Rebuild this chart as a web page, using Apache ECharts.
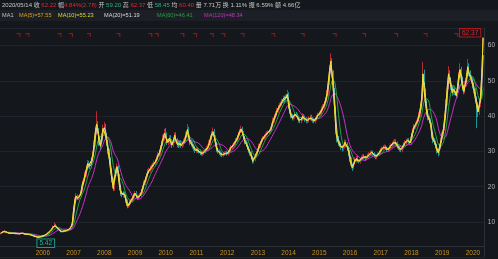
<!DOCTYPE html>
<html><head><meta charset="utf-8">
<script src="https://cdn.jsdelivr.net/npm/echarts@6/dist/echarts.min.js"></script>
<style>html,body{margin:0;padding:0;background:#14171c;}#c{width:498px;height:259px;}</style>
</head><body><div id="c"></div>
<script>
// half-month bars, from 2004/08/16 to 2020/05/01
const startYear = 2004, startHalf = 15, barCount = 378;
const categories = [];
for (let k = startHalf; k < startHalf + barCount; k++) {
  const y = startYear + Math.floor(k / 24), m = Math.floor((k % 24) / 2) + 1;
  categories.push(y + '/' + String(m).padStart(2, '0') + '/' + (k % 2 ? '16' : '01'));
}
const opens = [
6.7,6.8,7.0,7.3,7.4,7.2,7.0,6.9,6.8,
6.8,6.9,6.8,6.9,6.7,6.8,6.7,6.6,6.8,6.9,6.7,6.6,6.5,6.6,6.5,6.4,6.3,6.2,6.0,5.9,5.8,5.6,5.7,5.8,
6.0,5.9,6.2,6.4,6.6,6.9,7.3,7.6,8.0,8.7,9.2,8.8,8.4,8.0,7.6,7.3,7.2,7.4,7.6,7.5,7.7,7.9,8.1,8.6,
9.8,13.5,16.2,17.4,16.8,17.0,17.4,19.0,21.0,21.8,23.5,25.0,26.6,26.0,25.8,27.5,29.0,32.0,35.5,37.8,36.0,32.5,31.5,34.0,
36.5,37.0,34.5,32.4,30.0,27.6,24.5,22.0,19.5,22.5,24.5,25.7,23.0,19.8,18.0,17.6,18.2,17.5,16.0,14.5,14.8,15.6,16.0,16.8,
17.6,18.2,17.4,16.8,17.2,17.6,18.6,19.8,21.0,22.0,23.2,24.2,24.6,25.2,25.7,26.2,26.6,27.2,28.0,29.0,29.6,31.0,32.4,33.8,
35.2,34.5,32.5,32.8,33.8,32.6,31.8,33.0,34.6,33.2,32.0,31.8,32.4,31.6,32.0,32.8,33.4,34.8,36.2,34.0,32.6,32.2,31.6,31.0,
30.4,30.6,30.2,30.0,29.6,29.4,29.5,29.8,30.4,30.8,31.3,32.4,33.8,35.0,35.6,34.0,32.0,30.4,30.0,29.6,29.2,29.0,29.2,29.4,
29.6,29.4,29.8,30.6,31.2,31.6,32.0,32.4,33.2,34.0,35.0,35.8,36.4,35.2,33.8,32.6,32.0,31.0,30.2,29.4,28.4,27.2,27.8,28.8,
29.6,30.4,31.6,32.4,33.2,33.8,34.2,34.8,35.2,35.4,35.6,36.4,37.6,38.8,39.8,40.6,41.6,42.4,43.0,43.4,44.2,45.0,44.6,45.4,
46.2,43.0,41.2,40.0,39.4,39.8,40.6,40.2,39.6,38.8,38.6,39.2,40.0,39.6,39.0,38.6,38.8,39.4,39.8,39.2,38.8,38.6,39.2,39.8,
40.4,40.6,41.2,42.0,42.6,43.6,44.6,46.4,49.6,53.0,55.6,52.0,47.0,42.0,36.0,33.6,32.4,32.0,31.2,30.8,31.4,32.6,32.0,31.0,
29.8,27.8,26.0,25.4,26.6,27.8,28.2,27.4,27.0,27.6,28.2,28.6,28.4,28.0,28.4,28.8,29.2,29.6,29.8,29.4,28.8,28.4,28.8,29.2,
29.8,30.4,30.9,31.2,31.4,31.0,30.4,30.6,31.2,31.8,32.2,32.6,32.9,32.2,31.4,31.0,30.6,30.4,31.2,32.0,32.6,33.0,33.2,32.8,
32.4,34.4,35.8,37.0,37.6,38.2,39.0,40.4,42.4,45.0,52.0,47.0,43.6,40.8,39.6,38.8,37.6,34.4,33.2,32.6,31.6,30.2,29.6,31.4,
33.0,34.8,36.4,39.6,43.6,48.2,52.0,50.0,48.2,46.6,47.6,46.8,45.8,48.4,51.6,53.2,50.4,48.0,47.0,49.0,51.2,54.0,52.2,51.0,
50.2,48.6,47.2,44.8,43.0,41.2,43.0,45.6,52.4
];
const closes = [
6.8,7.0,7.3,7.4,7.2,7.0,6.9,6.8,6.8,
6.9,6.8,6.9,6.7,6.8,6.7,6.6,6.8,6.9,6.7,6.6,6.5,6.6,6.5,6.4,6.3,6.2,6.0,5.9,5.8,5.6,5.7,5.8,6.0,
5.9,6.2,6.4,6.6,6.9,7.3,7.6,8.0,8.7,9.2,8.8,8.4,8.0,7.6,7.3,7.2,7.4,7.6,7.5,7.7,7.9,8.1,8.6,9.8,
13.5,16.2,17.4,16.8,17.0,17.4,19.0,21.0,21.8,23.5,25.0,26.6,26.0,25.8,27.5,29.0,32.0,35.5,37.8,36.0,32.5,31.5,34.0,36.5,
37.0,34.5,32.4,30.0,27.6,24.5,22.0,19.5,22.5,24.5,25.7,23.0,19.8,18.0,17.6,18.2,17.5,16.0,14.5,14.8,15.6,16.0,16.8,17.6,
18.2,17.4,16.8,17.2,17.6,18.6,19.8,21.0,22.0,23.2,24.2,24.6,25.2,25.7,26.2,26.6,27.2,28.0,29.0,29.6,31.0,32.4,33.8,35.2,
34.5,32.5,32.8,33.8,32.6,31.8,33.0,34.6,33.2,32.0,31.8,32.4,31.6,32.0,32.8,33.4,34.8,36.2,34.0,32.6,32.2,31.6,31.0,30.4,
30.6,30.2,30.0,29.6,29.4,29.5,29.8,30.4,30.8,31.3,32.4,33.8,35.0,35.6,34.0,32.0,30.4,30.0,29.6,29.2,29.0,29.2,29.4,29.6,
29.4,29.8,30.6,31.2,31.6,32.0,32.4,33.2,34.0,35.0,35.8,36.4,35.2,33.8,32.6,32.0,31.0,30.2,29.4,28.4,27.2,27.8,28.8,29.6,
30.4,31.6,32.4,33.2,33.8,34.2,34.8,35.2,35.4,35.6,36.4,37.6,38.8,39.8,40.6,41.6,42.4,43.0,43.4,44.2,45.0,44.6,45.4,46.2,
43.0,41.2,40.0,39.4,39.8,40.6,40.2,39.6,38.8,38.6,39.2,40.0,39.6,39.0,38.6,38.8,39.4,39.8,39.2,38.8,38.6,39.2,39.8,40.4,
40.6,41.2,42.0,42.6,43.6,44.6,46.4,49.6,53.0,55.6,52.0,47.0,42.0,36.0,33.6,32.4,32.0,31.2,30.8,31.4,32.6,32.0,31.0,29.8,
27.8,26.0,25.4,26.6,27.8,28.2,27.4,27.0,27.6,28.2,28.6,28.4,28.0,28.4,28.8,29.2,29.6,29.8,29.4,28.8,28.4,28.8,29.2,29.8,
30.4,30.9,31.2,31.4,31.0,30.4,30.6,31.2,31.8,32.2,32.6,32.9,32.2,31.4,31.0,30.6,30.4,31.2,32.0,32.6,33.0,33.2,32.8,32.4,
34.4,35.8,37.0,37.6,38.2,39.0,40.4,42.4,45.0,52.0,47.0,43.6,40.8,39.6,38.8,37.6,34.4,33.2,32.6,31.6,30.2,29.6,31.4,33.0,
34.8,36.4,39.6,43.6,48.2,52.0,50.0,48.2,46.6,47.6,46.8,45.8,48.4,51.6,53.2,50.4,48.0,47.0,49.0,51.2,54.0,52.2,51.0,50.2,
48.6,47.2,44.8,43.0,41.2,43.0,45.6,52.4,62.22
];
const highs = [
7.0,7.2,7.5,7.7,7.5,7.3,7.1,7.0,7.0,
7.1,7.0,7.1,7.0,7.0,6.9,6.8,7.0,7.1,7.0,6.8,6.7,6.8,6.7,6.6,6.5,6.4,6.3,6.1,6.0,5.9,5.9,6.0,6.2,
6.2,6.4,6.6,6.8,7.1,7.5,7.9,8.3,9.0,9.9,9.5,9.0,8.6,8.2,7.8,7.5,7.6,7.8,7.8,7.9,8.1,8.4,8.9,10.3,
14.0,17.0,18.2,17.8,17.6,18.0,19.6,21.8,22.6,24.3,25.8,27.6,27.4,26.8,28.4,30.0,33.2,36.8,41.4,38.6,36.6,33.4,35.2,37.6,
38.4,37.8,35.2,33.2,30.8,28.4,25.2,22.6,23.2,25.4,26.6,26.2,23.6,20.4,18.6,18.8,18.6,17.8,16.4,15.4,16.2,16.6,17.4,18.2,
18.8,18.8,17.8,17.8,18.2,19.2,20.4,21.8,22.6,23.8,25.0,25.4,26.0,26.4,26.8,27.4,27.8,28.8,29.8,30.4,31.8,33.2,34.8,36.4,
36.6,35.4,33.6,34.6,34.6,33.4,33.8,35.4,35.4,33.8,32.8,33.2,33.2,32.8,33.6,34.2,35.6,37.8,37.0,34.8,33.4,32.8,32.2,31.6,
31.4,31.2,30.8,30.6,30.2,30.2,30.4,31.0,31.6,32.0,33.2,34.6,35.8,36.8,36.4,34.6,32.6,31.0,30.6,30.2,29.8,29.8,30.0,30.2,
30.2,30.4,31.2,31.8,32.2,32.6,33.0,33.8,34.6,35.6,36.4,37.3,37.0,35.8,34.4,33.2,32.6,31.6,30.8,30.0,28.8,28.4,29.4,30.2,
31.0,32.2,33.0,33.8,34.4,34.8,35.4,35.8,36.0,36.2,37.0,38.2,39.6,40.6,41.4,42.4,43.2,43.8,44.2,45.0,45.8,45.8,46.2,47.5,
46.8,43.8,42.0,40.6,40.4,41.2,41.2,40.8,40.2,39.4,39.8,40.8,40.6,40.2,39.6,39.4,40.0,40.4,40.4,39.8,39.4,39.8,40.4,41.0,
41.4,41.8,42.8,43.4,44.4,45.4,47.4,50.8,54.4,57.8,56.4,53.0,48.0,42.8,36.8,34.4,33.2,32.6,31.8,32.0,33.4,33.2,32.6,31.6,
30.4,28.4,26.6,27.2,28.4,28.8,28.8,27.8,28.2,28.8,29.2,29.2,28.8,28.8,29.4,29.8,30.2,30.4,30.2,29.8,29.2,29.2,29.8,30.4,
31.0,31.4,31.8,32.0,31.8,31.4,31.2,31.8,32.4,32.8,33.2,33.6,33.4,32.8,32.0,31.6,31.0,31.8,32.6,33.2,33.6,33.8,33.8,33.2,
35.2,36.6,37.8,38.4,39.0,39.8,41.2,43.4,46.2,55.4,53.2,47.8,44.4,41.4,40.2,39.4,38.2,34.8,33.8,33.2,32.2,30.8,32.2,34.0,
35.6,37.2,40.6,44.8,49.6,54.2,53.0,51.0,48.8,48.4,48.2,47.2,49.2,52.6,55.0,54.0,51.2,48.8,49.8,52.0,56.2,55.0,53.0,51.6,
51.0,49.6,48.0,45.6,44.0,43.8,46.4,53.6,62.37
];
const lows = [
6.5,6.7,6.9,7.1,7.0,6.8,6.7,6.6,6.6,
6.6,6.6,6.6,6.5,6.5,6.5,6.4,6.5,6.6,6.5,6.4,6.3,6.4,6.3,6.2,6.1,6.0,5.8,5.7,5.6,5.42,5.5,5.6,5.7,
5.7,5.8,6.0,6.2,6.4,6.7,7.1,7.4,7.8,8.5,8.5,8.2,7.8,7.4,7.1,7.0,7.0,7.2,7.3,7.3,7.5,7.7,7.9,8.4,
9.6,13.0,15.6,16.2,16.2,16.6,17.0,18.6,20.4,21.2,22.8,24.4,25.2,25.0,25.2,27.0,28.4,31.4,34.8,35.0,31.6,30.4,30.8,33.4,
35.6,33.8,31.6,29.2,26.8,23.8,21.2,18.8,18.8,21.8,23.8,22.4,19.0,17.4,17.0,17.0,16.8,15.4,13.9,14.0,14.4,15.0,15.6,16.2,
17.0,16.8,16.2,16.2,16.8,17.0,18.0,19.2,20.4,21.4,22.6,23.6,24.0,24.6,25.0,25.6,26.0,26.6,27.4,28.4,28.8,30.2,31.6,33.0,
33.6,31.8,31.8,32.2,32.0,31.0,31.2,32.4,32.6,31.2,31.0,31.2,31.0,31.0,31.4,32.2,32.8,34.0,33.2,31.8,31.4,30.8,30.2,29.6,
29.6,29.6,29.4,29.0,28.8,28.8,29.0,29.4,30.0,30.2,30.8,31.8,33.2,34.4,33.4,31.4,29.8,29.4,29.0,28.6,28.4,28.4,28.8,29.0,
28.8,28.8,29.2,30.0,30.6,31.0,31.4,31.8,32.6,33.4,34.4,35.2,34.6,33.2,32.0,31.4,30.4,29.6,28.8,27.8,26.6,26.6,27.2,28.2,
29.0,29.8,31.0,31.8,32.6,33.2,33.6,34.2,34.6,34.8,35.0,35.8,37.0,38.2,39.2,40.0,41.0,41.8,42.4,42.8,43.6,43.8,44.0,44.8,
42.2,40.6,39.4,38.8,38.8,39.2,39.6,39.0,38.2,38.0,38.0,38.6,39.0,38.4,38.0,38.0,38.2,38.8,38.6,38.2,38.0,38.0,38.6,39.2,
39.8,40.0,40.6,41.4,42.0,43.0,44.0,45.8,48.8,52.2,50.8,46.0,40.8,34.8,32.6,31.6,31.2,30.4,30.0,30.2,30.8,31.2,30.2,28.6,
27.0,25.2,24.5,25.0,26.2,27.2,27.0,26.6,26.6,27.2,27.8,27.8,27.4,27.6,28.0,28.4,28.8,29.0,28.8,28.2,27.8,27.8,28.4,28.8,
29.2,29.8,30.4,30.6,30.4,29.8,29.8,30.0,30.6,31.2,31.6,32.0,31.6,30.8,30.4,30.0,29.8,29.8,30.6,31.4,32.0,32.4,32.2,31.8,
31.8,33.8,35.2,36.4,37.0,37.6,38.4,39.8,41.8,44.4,46.2,42.8,40.0,38.8,38.0,36.8,33.6,32.4,31.8,30.8,29.4,28.6,29.0,30.8,
32.4,34.2,35.8,39.0,43.0,47.6,49.2,47.4,45.8,46.0,46.0,45.0,45.2,47.8,51.0,49.6,47.2,46.2,46.4,48.4,50.6,51.4,50.2,49.2,
47.8,46.4,44.0,36.6,39.8,40.4,42.6,45.0,52.0
];
// event flags (dividend markers) along the top
const eventDates = ['2005/03/16','2005/07/01','2006/07/16','2006/12/01','2007/07/01','2008/06/16','2009/07/01','2009/09/16',
 '2010/07/16','2010/12/16','2011/07/01','2011/11/16','2012/07/01','2013/07/01','2014/06/16','2015/07/01','2016/06/16',
 '2017/07/01','2018/06/16','2019/06/16'];
const eventLevel = 63;
// MA windows expressed in half-month bars (≈ 5, 10, 20, 60, 120 trading days)
const maNames = ['MA5','MA10','MA20','MA60','MA120'];
const maWindows = [1, 1, 2, 6, 12];
const maColors = ['#e6a21c','#ece437','#dcdcdc','#22a03c','#c62fc9'];
const yTicks = [10,20,30,40,50,60];
const xLabelYears = ['2006','2007','2008','2009','2010','2011','2012','2013','2014','2015','2016','2017','2018','2019','2020'];

const candles = categories.map((_, i) => [opens[i], closes[i], lows[i], highs[i]]);
function ma(w) {
  return closes.map((c, i) => {
    if (i < w - 1) return '-';
    let s = 0; for (let j = i - w + 1; j <= i; j++) s += closes[j];
    return +(s / w).toFixed(3);
  });
}
const FONT = "'Liberation Sans','Noto Sans CJK SC',sans-serif";
const chart = echarts.init(document.getElementById('c'), null, {renderer: 'canvas'});
const lineOrder = [4, 3, 2, 0, 1];
const ROW2 = 5.6;
const option = {
  animation: false,
  backgroundColor: '#14171c',
  grid: {left: 0, right: 14, top: 28, bottom: 1.7},
  xAxis: {
    type: 'category', data: categories, boundaryGap: true, offset: -10.6,
    axisLine: {lineStyle: {color: '#2b2f36'}}, axisTick: {show: false},
    axisLabel: {color: '#c8921e', fontSize: 6.5, fontFamily: FONT, margin: 3,
      interval: (i, v) => v.endsWith('/01/01') && xLabelYears.includes(v.slice(0, 4)), formatter: v => v.slice(0, 4)},
    splitLine: {show: false}
  },
  yAxis: {
    type: 'value', position: 'right', min: 0, max: 65, interval: 10,
    axisLine: {show: true, lineStyle: {color: '#2b2f36'}}, axisTick: {show: false},
    axisLabel: {color: '#b5b5b5', fontSize: 6.5, fontFamily: FONT, margin: 4,
      formatter: v => yTicks.includes(v) ? String(v) : ''},
    splitLine: {lineStyle: {color: '#20242a', width: 1}}
  },
  series: [
    {
      type: 'candlestick', data: candles, barWidth: '70%',
      itemStyle: {color: '#e0313a', color0: '#1fb5b8', borderColor: '#e0313a', borderColor0: '#1fb5b8', borderWidth: 0.8},
      markPoint: {
        symbol: 'circle', symbolSize: 0,
        data: [
          {type: 'max', valueDim: 'highest', label: {show: true, formatter: p => p.value.toFixed(2),
            color: '#e0282d', fontSize: 6.5, fontFamily: FONT, backgroundColor: '#14171c', borderColor: '#b0181d', borderWidth: 1,
            padding: [1, 2, 0, 2], offset: [-13, -4.5]}},
          {type: 'min', valueDim: 'lowest', label: {show: true, formatter: p => p.value.toFixed(2),
            color: '#26b39a', fontSize: 6.5, fontFamily: FONT, backgroundColor: '#14171c', borderColor: '#1c9a86', borderWidth: 1,
            padding: [1, 2, 0, 2], offset: [8, 5]}}
        ]
      }
    },
    ...lineOrder.map(k => ({
      type: 'line', name: maNames[k], data: ma(maWindows[k]), showSymbol: false, symbol: 'none',
      lineStyle: {color: maColors[k], width: 1}, z: 3 + lineOrder.indexOf(k)
    })),
    {
      type: 'scatter', data: eventDates.map(d => [d, eventLevel]), symbol: 'path://M0,0 L5,0 L5,5 L3.6,5 L3.6,1.4 L0,1.4 Z',
      symbolSize: [4, 4], itemStyle: {color: '#a3191c'}, z: 10
    }
  ],
  graphic: [
    {type: 'rect', shape: {x: 0, y: 10, width: 498, height: 11}, style: {fill: '#1c1f25'}, z: 0},
    {type: 'text', x: 2, y: 5, style: {
      text: '{w|2020/05/14} {w|收} {r|62.22} {w|幅}{r|4.84%(2.78)} {w|开} {g|59.20} {w|高} {r|62.37} {w|低} {g|58.45} {w|均} {r|60.40} {w|量} {w|7.71万} {w|换} {w|1.11%} {w|振} {w|6.59%} {w|额} {w|4.66亿}',
      verticalAlign: 'middle', fontSize: 6, fontFamily: FONT,
      rich: {w: {fill: '#c8c8c8', fontSize: 6, fontFamily: FONT}, r: {fill: '#e0282d', fontSize: 6, fontFamily: FONT}, g: {fill: '#2bb07c', fontSize: 6, fontFamily: FONT}}
    }},
    {type: 'text', x: 2, y: 15.5, style: {text: 'MA1', fill: '#c0c0c0', fontSize: ROW2, fontFamily: FONT, verticalAlign: 'middle'}},
    {type: 'text', x: 19, y: 15.5, style: {text: 'MA(5)=57.55', fill: '#d9a21b', fontSize: ROW2, fontFamily: FONT, verticalAlign: 'middle'}},
    {type: 'text', x: 58, y: 15.5, style: {text: 'MA(10)=55.23', fill: '#e0dc2a', fontSize: ROW2, fontFamily: FONT, verticalAlign: 'middle'}},
    {type: 'text', x: 104, y: 15.5, style: {text: 'MA(20)=51.19', fill: '#d8d8d8', fontSize: ROW2, fontFamily: FONT, verticalAlign: 'middle'}},
    {type: 'text', x: 157, y: 15.5, style: {text: 'MA(60)=46.41', fill: '#2aa040', fontSize: ROW2, fontFamily: FONT, verticalAlign: 'middle'}},
    {type: 'text', x: 204, y: 15.5, style: {text: 'MA(120)=48.34', fill: '#c830c8', fontSize: ROW2, fontFamily: FONT, verticalAlign: 'middle'}}
  ]
};
chart.setOption(option);
</script>
</body></html>
